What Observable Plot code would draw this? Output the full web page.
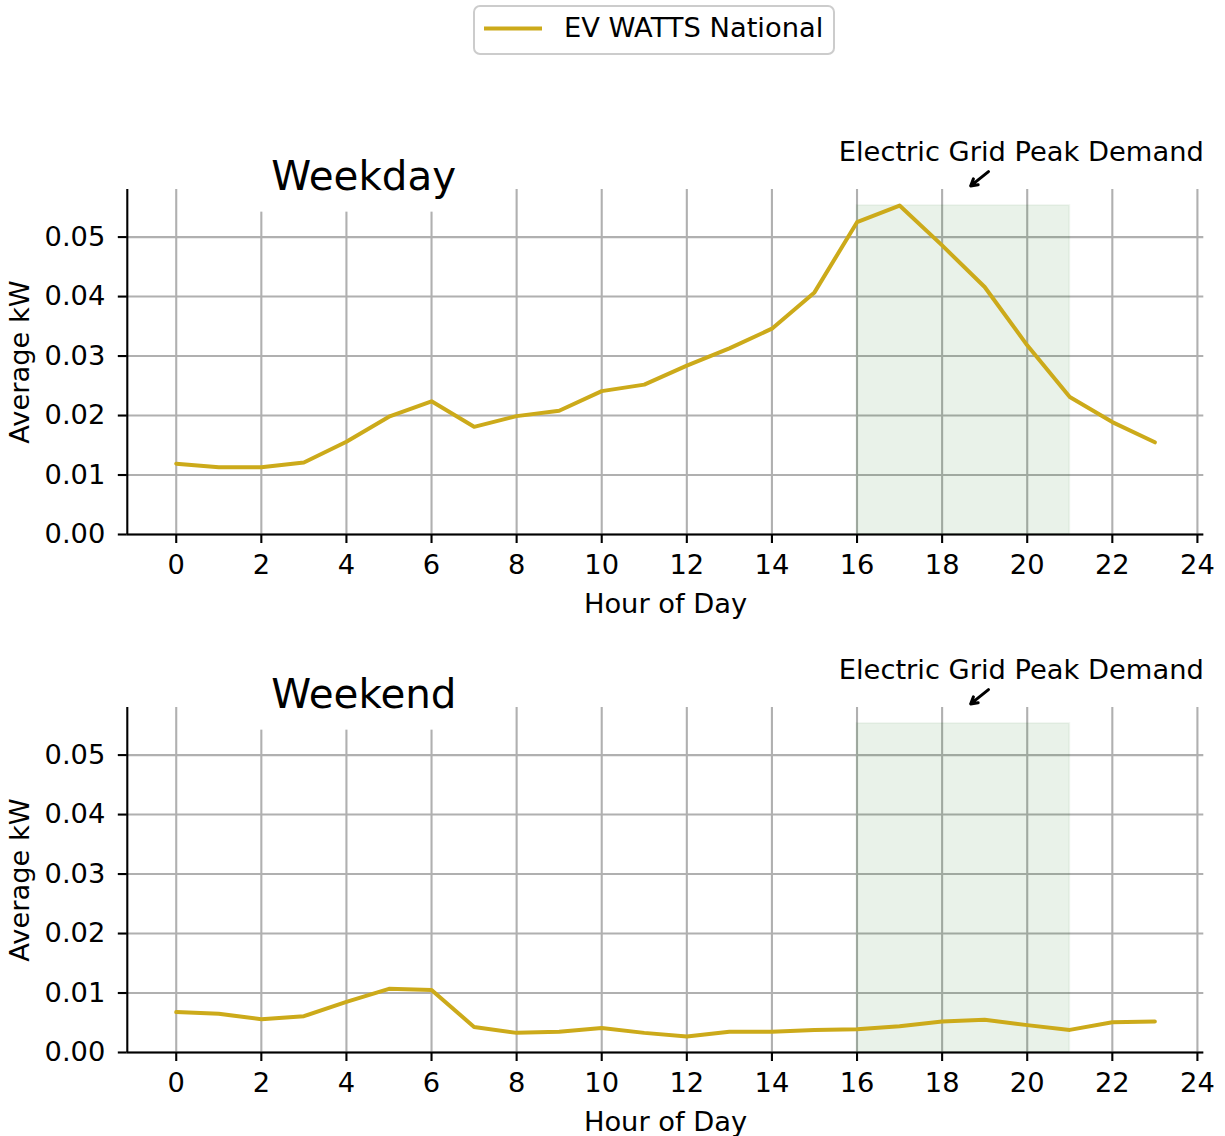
<!DOCTYPE html>
<html>
<head>
<meta charset="utf-8">
<script src="https://cdn.jsdelivr.net/npm/d3@7"></script>
<script src="https://cdn.jsdelivr.net/npm/@observablehq/plot@0.6"></script>
<style>
  html, body { margin: 0; padding: 0; background: #ffffff; }
  #wrap { position: relative; width: 1225px; height: 1136px; font-family: "DejaVu Sans", sans-serif; }
  #wrap svg { display: block; }
</style>
</head>
<body>
<div id="wrap">
  <svg id="legend" width="1225" height="100" style="font-family:'DejaVu Sans', sans-serif">
    <rect x="474" y="6" width="360" height="48" rx="6" ry="6" fill="#ffffff" stroke="#cccccc" stroke-width="2"></rect>
    <line id="legendLine" x1="484" x2="542" y1="28.5" y2="28.5" stroke-width="4"></line>
    <text id="legendText" x="564" y="37.3" font-size="27.3" fill="#000000"></text>
  </svg>
</div>
<script>
// ---------------- data ----------------
const hours = [0, 1, 2, 3, 4, 5, 6, 7, 8, 9, 10, 11, 12, 13, 14, 15, 16, 17, 18, 19, 20, 21, 22, 23];
const weekdayKW = [0.0119, 0.0113, 0.0113, 0.0121, 0.0156, 0.0198, 0.0224, 0.0181, 0.0199, 0.0208,
                   0.0241, 0.0252, 0.0284, 0.0313, 0.0346, 0.0407, 0.0525, 0.0553, 0.0486, 0.0416,
                   0.0318, 0.0231, 0.0189, 0.0155];
const weekendKW = [0.0068, 0.0065, 0.0056, 0.0061, 0.0085, 0.0107, 0.0105, 0.0043, 0.0033, 0.0035,
                   0.0041, 0.0033, 0.0027, 0.0035, 0.0035, 0.0038, 0.0039, 0.0044, 0.0052, 0.0055,
                   0.0046, 0.0038, 0.0051, 0.0052];
const xTicks = [0, 2, 4, 6, 8, 10, 12, 14, 16, 18, 20, 22, 24];
const yTicks = [0.00, 0.01, 0.02, 0.03, 0.04, 0.05];
const panelTitles = ["Weekday", "Weekend"];
const seriesName = "EV WATTS National";
const peakLabel = "Electric Grid Peak Demand";
const peakWindow = [16, 21];          // hours of the shaded peak period
const arrowFrom = [19.09, 0.0610];    // annotation arrow tail (hour, kW)
const arrowTo = [18.67, 0.0586];      // annotation arrow head (hour, kW)
const xLabel = "Hour of Day";
const yLabel = "Average kW";

// ---------------- style ----------------
const lineColor = "#ccaa1a";
const gridColor = "#b0b0b0";
const fs = 27.3;
const titleFs = 40.4;
const xDomain = [-1.15, 24.15];
const yDomain = [0, 0.058];

document.getElementById("legendLine").setAttribute("stroke", lineColor);
document.getElementById("legendText").textContent = seriesName;

function panel(title, values) {
  const data = hours.map((h, i) => ({hour: h, kw: values[i]}));
  const spanTop = d3.max(weekdayKW);
  return Plot.plot({
    width: 1225,
    height: 518,
    marginTop: 89,
    marginBottom: 84,
    marginLeft: 126.8,
    marginRight: 21.7,
    style: {fontFamily: '"DejaVu Sans", sans-serif', fontSize: fs + "px", background: "white", color: "black", overflow: "visible"},
    x: {domain: xDomain},
    y: {domain: yDomain},
    marks: [
      Plot.gridX(xTicks, {stroke: gridColor, strokeOpacity: 1, strokeWidth: 2.1}),
      Plot.gridY(yTicks, {stroke: gridColor, strokeOpacity: 1, strokeWidth: 2.1}),
      Plot.rect([{x1: peakWindow[0], x2: peakWindow[1], y1: 0, y2: spanTop}],
        {x1: "x1", x2: "x2", y1: "y1", y2: "y2", fill: "#006400", fillOpacity: 0.086,
         stroke: "#006400", strokeOpacity: 0.05, strokeWidth: 2}),
      Plot.line(data, {x: "hour", y: "kw", stroke: lineColor, strokeWidth: 4}),
      Plot.ruleX([xDomain[0]], {stroke: "black", strokeWidth: 2.1}),
      Plot.ruleY([yDomain[0]], {stroke: "black", strokeWidth: 2.1}),
      Plot.axisX({ticks: xTicks, tickSize: 9, tickPadding: 11.5, strokeWidth: 2.1, label: null,
                  fontSize: fs, tickFormat: d => String(d)}),
      Plot.axisY({ticks: yTicks, tickSize: 9, tickPadding: 13, strokeWidth: 2.1, label: null,
                  fontSize: fs, tickFormat: d3.format(".2f")}),
      Plot.text([xLabel], {frameAnchor: "bottom", textAnchor: "middle", dy: 69.3, fontSize: fs, lineAnchor: "middle"}),
      Plot.text([yLabel], {frameAnchor: "left", textAnchor: "middle", rotate: -90, dx: -107.3, fontSize: fs, lineAnchor: "middle"}),
      Plot.text([peakLabel], {frameAnchor: "top-right", textAnchor: "end", dy: -37.2, fontSize: fs, lineAnchor: "middle"}),
      Plot.arrow([{x1: arrowFrom[0], y1: arrowFrom[1], x2: arrowTo[0], y2: arrowTo[1]}],
        {x1: "x1", y1: "y1", x2: "x2", y2: "y2", stroke: "black", strokeWidth: 3, headLength: 12, clip: false}),
      Plot.text([title], {frameAnchor: "top-left", textAnchor: "start", dx: 143.9, dy: -12.9, fontSize: titleFs, lineAnchor: "middle"})
    ]
  });
}

const wrap = document.getElementById("wrap");
panelTitles.forEach((t, i) => {
  const svg = panel(t, i === 0 ? weekdayKW : weekendKW);
  wrap.appendChild(svg);
  // white box behind the panel title (like a text bbox), covering gridlines beneath it
  const texts = Array.from(svg.querySelectorAll("text")).filter(el => el.textContent === t);
  texts.forEach(el => {
    const sr = svg.getBoundingClientRect();
    const r = el.getBoundingClientRect();
    const pad = 0.3 * titleFs;
    const rect = document.createElementNS("http://www.w3.org/2000/svg", "rect");
    rect.setAttribute("x", r.left - sr.left - pad);
    rect.setAttribute("y", r.top - sr.top - pad);
    rect.setAttribute("width", r.width + 2 * pad);
    rect.setAttribute("height", r.height + 2 * pad);
    rect.setAttribute("fill", "white");
    const g = el.closest("g");
    g.parentNode.insertBefore(rect, g);
  });
});
</script>
</body>
</html>
